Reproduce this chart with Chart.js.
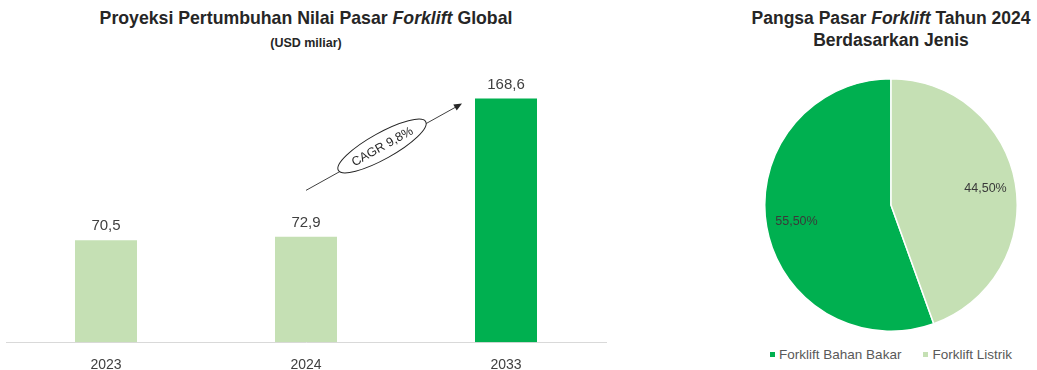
<!DOCTYPE html>
<html>
<head>
<meta charset="utf-8">
<script src="https://cdn.jsdelivr.net/npm/chart.js@4.4.1/dist/chart.umd.min.js"></script>
<style>
  html, body { margin: 0; padding: 0; background: #ffffff; }
  body { width: 1037px; height: 370px; position: relative; overflow: hidden;
         font-family: "Liberation Sans", Arial, sans-serif; }
  .title { position: absolute; text-align: center; font-weight: bold; color: #262626; white-space: nowrap; }
  #t1 { left: 0; width: 612px; top: 7px; font-size: 17.7px; line-height: 22px; }
  #t1s { left: 0; width: 612px; top: 35px; font-size: 12.5px; line-height: 16px; }
  #t2 { left: 745px; width: 292px; top: 7px; font-size: 17.5px; line-height: 22px; }
  #barWrap { position: absolute; left: 0; top: 0; width: 612px; height: 389px; }
  #pieWrap { position: absolute; left: 764px; top: 78px; width: 254px; height: 254px; }
  #legend { position: absolute; left: 745px; width: 292px; top: 346px; height: 18px; line-height: 18px; text-align: center;
            font-size: 13.5px; color: #595959; white-space: nowrap; }
  #legend span.item { display: inline-block; margin: 0 11px; }
  #legend span.box { display: inline-block; width: 5px; height: 5px; margin-right: 4px; vertical-align: middle; position: relative; top: -1px; }
</style>
</head>
<body>
<div class="title" id="t1">Proyeksi Pertumbuhan Nilai Pasar <i>Forklift</i> Global</div>
<div class="title" id="t1s">(USD miliar)</div>
<div class="title" id="t2">Pangsa Pasar <i>Forklift</i> Tahun 2024<br>Berdasarkan Jenis</div>
<div id="barWrap"><canvas id="bar"></canvas></div>
<div id="pieWrap"><canvas id="pie"></canvas></div>
<div id="legend"></div>
<script>
// ---- Data ----
const years = ["2023", "2024", "2033"];
const marketValues = [70.5, 72.9, 168.6];
const barColors = ["#C5E0B4", "#C5E0B4", "#00B050"];
const cagrLabel = "CAGR 9,8%";

const pieLabels = ["Forklift Bahan Bakar", "Forklift Listrik"];
const pieShares = [55.5, 44.5];
const pieColors = ["#00B050", "#C5E0B4"];

const FONT = '"Liberation Sans", Arial, sans-serif';
const fmt = (v, d) => v.toFixed(d).replace('.', ',');

// ---- Bar value labels + CAGR annotation ----
const barExtras = {
  id: 'barExtras',
  afterDatasetsDraw(chart) {
    const ctx = chart.ctx;
    const meta = chart.getDatasetMeta(0);
    ctx.save();
    ctx.font = '15px ' + FONT;
    ctx.fillStyle = '#404040';
    ctx.textAlign = 'center';
    ctx.textBaseline = 'middle';
    meta.data.forEach((bar, i) => {
      ctx.fillText(fmt(marketValues[i], 1), bar.x, bar.y - 14);
    });
    // CAGR arrow, placed in data units
    const xs = chart.scales.x, ys = chart.scales.y;
    const x1 = xs.getPixelForValue(1), y1 = ys.getPixelForValue(105);
    const x2 = xs.getPixelForValue(1.78), y2 = ys.getPixelForValue(165);
    const ang = Math.atan2(y2 - y1, x2 - x1);
    ctx.strokeStyle = '#404040';
    ctx.lineWidth = 1;
    ctx.beginPath(); ctx.moveTo(x1, y1); ctx.lineTo(x2 - 6 * Math.cos(ang), y2 - 6 * Math.sin(ang)); ctx.stroke();
    ctx.fillStyle = '#262626';
    ctx.beginPath();
    ctx.moveTo(x2, y2);
    ctx.lineTo(x2 - 8 * Math.cos(ang) + 3.5 * Math.sin(ang), y2 - 8 * Math.sin(ang) - 3.5 * Math.cos(ang));
    ctx.lineTo(x2 - 8 * Math.cos(ang) - 3.5 * Math.sin(ang), y2 - 8 * Math.sin(ang) + 3.5 * Math.cos(ang));
    ctx.closePath(); ctx.fill();
    const cx = (x1 + x2) / 2 - 2, cy = (y1 + y2) / 2 - 1;
    ctx.translate(cx, cy);
    ctx.rotate(ang);
    ctx.beginPath();
    ctx.ellipse(0, 0, 50, 13, 0, 0, Math.PI * 2);
    ctx.fillStyle = '#ffffff';
    ctx.fill();
    ctx.strokeStyle = '#262626';
    ctx.stroke();
    ctx.fillStyle = '#262626';
    ctx.font = '12.5px ' + FONT;
    ctx.fillText(cagrLabel, 0, 1);
    ctx.restore();
  }
};

new Chart(document.getElementById('bar'), {
  type: 'bar',
  data: {
    labels: years,
    datasets: [{ data: marketValues, backgroundColor: barColors, borderWidth: 0,
                 barPercentage: 0.31, categoryPercentage: 1.0 }]
  },
  options: {
    responsive: true, maintainAspectRatio: false, animation: false,
    layout: { padding: { left: 6, right: 6, top: 53, bottom: 0 } },
    plugins: { legend: { display: false }, tooltip: { enabled: false } },
    scales: {
      x: {
        grid: { display: false, drawTicks: false },
        border: { display: true, color: '#D9D9D9', width: 1 },
        ticks: { color: '#404040', font: { family: FONT, size: 14 }, padding: 15 }
      },
      y: { display: false, min: 0, max: 200 }
    }
  },
  plugins: [barExtras]
});

// ---- Pie labels ----
const pieExtras = {
  id: 'pieExtras',
  afterDatasetsDraw(chart) {
    const ctx = chart.ctx;
    const meta = chart.getDatasetMeta(0);
    ctx.save();
    ctx.font = '12.5px ' + FONT;
    ctx.fillStyle = '#3a3a3a';
    ctx.textAlign = 'center';
    ctx.textBaseline = 'middle';
    meta.data.forEach((arc, i) => {
      const a = (arc.startAngle + arc.endAngle) / 2;
      const r = arc.outerRadius * 0.76;
      ctx.fillText(fmt(pieShares[i], 2) + '%', arc.x + r * Math.cos(a), arc.y + r * Math.sin(a));
    });
    ctx.restore();
  }
};

const pieTotal = pieShares.reduce((a, b) => a + b, 0);
new Chart(document.getElementById('pie'), {
  type: 'pie',
  data: {
    labels: pieLabels,
    datasets: [{ data: pieShares, backgroundColor: pieColors, borderColor: '#ffffff', borderWidth: 1.5 }]
  },
  options: {
    responsive: true, maintainAspectRatio: false, animation: false,
    rotation: pieShares[1] / pieTotal * 360,
    layout: { padding: 0 },
    plugins: { legend: { display: false }, tooltip: { enabled: false } }
  },
  plugins: [pieExtras]
});

// ---- Legend (from data arrays) ----
const legendEl = document.getElementById('legend');
pieLabels.forEach((lab, i) => {
  const item = document.createElement('span');
  item.className = 'item';
  const box = document.createElement('span');
  box.className = 'box';
  box.style.background = pieColors[i];
  item.appendChild(box);
  item.appendChild(document.createTextNode(lab));
  legendEl.appendChild(item);
});
</script>
</body>
</html>
